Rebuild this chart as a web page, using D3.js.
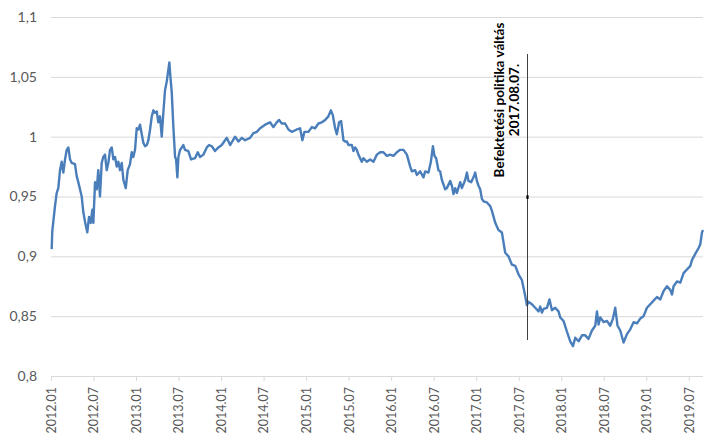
<!DOCTYPE html>
<html>
<head>
<meta charset="utf-8">
<script src="https://cdn.jsdelivr.net/npm/d3@7"></script>
<style>
    html, body { margin: 0; padding: 0; background: #fff; }
    svg { display: block; }
</style>
</head>
<body>
<svg id="chart" width="715" height="434"></svg>
<script>
// Series: decimal year and value
var dates = [
    2012.008, 2012.015, 2012.047, 2012.067, 2012.086, 2012.106, 2012.126, 2012.145, 2012.165, 2012.185,
    2012.204, 2012.224, 2012.244, 2012.282, 2012.302, 2012.321, 2012.341, 2012.361, 2012.380, 2012.400,
    2012.427, 2012.447, 2012.467, 2012.486, 2012.498, 2012.518, 2012.538, 2012.556, 2012.576, 2012.596,
    2012.615, 2012.635, 2012.655, 2012.674, 2012.694, 2012.714, 2012.733, 2012.753, 2012.773, 2012.792,
    2012.812, 2012.832, 2012.851, 2012.879, 2012.902, 2012.929, 2012.949, 2012.968, 2012.988, 2013.008,
    2013.027, 2013.047, 2013.067, 2013.086, 2013.106, 2013.126, 2013.145, 2013.165, 2013.185, 2013.204,
    2013.224, 2013.244, 2013.262, 2013.282, 2013.302, 2013.321, 2013.341, 2013.361, 2013.380, 2013.392,
    2013.404, 2013.420, 2013.439, 2013.459, 2013.471, 2013.486, 2013.498, 2013.518, 2013.538, 2013.556,
    2013.576, 2013.615, 2013.647, 2013.694, 2013.726, 2013.753, 2013.792, 2013.832, 2013.859, 2013.891,
    2013.929, 2013.968, 2014.008, 2014.047, 2014.067, 2014.106, 2014.165, 2014.204, 2014.244, 2014.282,
    2014.341, 2014.380, 2014.420, 2014.459, 2014.518, 2014.576, 2014.615, 2014.655, 2014.682, 2014.714,
    2014.753, 2014.792, 2014.832, 2014.891, 2014.929, 2014.956, 2014.980, 2015.027, 2015.067, 2015.106,
    2015.145, 2015.185, 2015.224, 2015.262, 2015.291, 2015.314, 2015.341, 2015.361, 2015.388, 2015.412,
    2015.439, 2015.459, 2015.479, 2015.498, 2015.538, 2015.556, 2015.576, 2015.596, 2015.615, 2015.655,
    2015.674, 2015.714, 2015.753, 2015.792, 2015.832, 2015.871, 2015.909, 2015.949, 2015.988, 2016.027,
    2016.067, 2016.106, 2016.145, 2016.185, 2016.224, 2016.244, 2016.282, 2016.302, 2016.341, 2016.380,
    2016.400, 2016.439, 2016.467, 2016.491, 2016.509, 2016.529, 2016.556, 2016.576, 2016.596, 2016.635,
    2016.655, 2016.694, 2016.714, 2016.733, 2016.753, 2016.773, 2016.812, 2016.832, 2016.871, 2016.891,
    2016.909, 2016.941, 2016.968, 2016.988, 2017.008, 2017.027, 2017.047, 2017.067, 2017.086, 2017.126,
    2017.165, 2017.185, 2017.224, 2017.262, 2017.302, 2017.341, 2017.380, 2017.420, 2017.459, 2017.498,
    2017.538, 2017.576, 2017.596, 2017.615, 2017.655, 2017.694, 2017.733, 2017.753, 2017.773, 2017.792,
    2017.832, 2017.862, 2017.891, 2017.929, 2017.968, 2017.988, 2018.027, 2018.067, 2018.106, 2018.138,
    2018.165, 2018.204, 2018.244, 2018.282, 2018.321, 2018.361, 2018.400, 2018.420, 2018.439, 2018.459,
    2018.498, 2018.538, 2018.576, 2018.608, 2018.635, 2018.662, 2018.694, 2018.733, 2018.773, 2018.812,
    2018.851, 2018.891, 2018.929, 2018.968, 2019.008, 2019.047, 2019.086, 2019.126, 2019.165, 2019.204,
    2019.244, 2019.282, 2019.302, 2019.321, 2019.361, 2019.400, 2019.439, 2019.478, 2019.518, 2019.538,
    2019.576, 2019.615, 2019.635, 2019.655, 2019.667
];

var values = [
    0.906, 0.921, 0.942, 0.953, 0.957, 0.972, 0.979, 0.970, 0.981, 0.989,
    0.991, 0.981, 0.978, 0.977, 0.967, 0.962, 0.956, 0.950, 0.937, 0.929,
    0.920, 0.933, 0.928, 0.939, 0.928, 0.962, 0.956, 0.972, 0.950, 0.978,
    0.983, 0.985, 0.972, 0.978, 0.989, 0.991, 0.981, 0.983, 0.975, 0.979,
    0.972, 0.978, 0.964, 0.957, 0.972, 0.977, 0.987, 0.983, 0.989, 1.007,
    1.006, 1.010, 1.002, 0.995, 0.992, 0.993, 0.997, 1.006, 1.017, 1.022,
    1.020, 1.021, 1.012, 1.017, 1.000, 1.020, 1.039, 1.046, 1.056, 1.062,
    1.050, 1.037, 1.008, 0.983, 0.981, 0.966, 0.983, 0.989, 0.991, 0.993,
    0.989, 0.988, 0.981, 0.982, 0.987, 0.983, 0.985, 0.991, 0.993, 0.992,
    0.988, 0.991, 0.993, 0.997, 0.999, 0.993, 1.000, 0.996, 0.999, 0.997,
    0.999, 1.003, 1.004, 1.007, 1.010, 1.012, 1.008, 1.012, 1.014, 1.011,
    1.011, 1.006, 1.004, 1.006, 1.007, 0.997, 1.004, 1.004, 1.008, 1.007,
    1.011, 1.012, 1.014, 1.017, 1.022, 1.018, 1.007, 1.002, 1.012, 1.013,
    0.997, 0.996, 0.996, 0.993, 0.993, 0.988, 0.991, 0.989, 0.985, 0.979,
    0.982, 0.979, 0.981, 0.979, 0.985, 0.987, 0.987, 0.984, 0.985, 0.984,
    0.987, 0.989, 0.989, 0.985, 0.975, 0.971, 0.972, 0.968, 0.971, 0.966,
    0.971, 0.970, 0.979, 0.992, 0.984, 0.982, 0.972, 0.971, 0.964, 0.956,
    0.957, 0.963, 0.959, 0.952, 0.957, 0.953, 0.962, 0.957, 0.964, 0.970,
    0.963, 0.962, 0.966, 0.970, 0.963, 0.959, 0.956, 0.948, 0.946, 0.945,
    0.942, 0.938, 0.928, 0.922, 0.920, 0.903, 0.900, 0.893, 0.892, 0.885,
    0.880, 0.867, 0.859, 0.862, 0.860, 0.857, 0.854, 0.858, 0.853, 0.856,
    0.857, 0.864, 0.855, 0.857, 0.854, 0.849, 0.846, 0.837, 0.829, 0.825,
    0.832, 0.829, 0.834, 0.834, 0.831, 0.838, 0.842, 0.854, 0.843, 0.849,
    0.845, 0.846, 0.842, 0.848, 0.857, 0.842, 0.838, 0.828, 0.835, 0.839,
    0.845, 0.844, 0.848, 0.850, 0.857, 0.860, 0.863, 0.866, 0.864, 0.871,
    0.875, 0.872, 0.868, 0.875, 0.879, 0.878, 0.886, 0.889, 0.892, 0.897,
    0.902, 0.907, 0.910, 0.920, 0.922
];

var xTickLabels = [
    "2012.01", "2012.07", "2013.01", "2013.07", "2014.01", "2014.07", "2015.01", "2015.07",
    "2016.01", "2016.07", "2017.01", "2017.07", "2018.01", "2018.07", "2019.01", "2019.07"
];

var yTicks = [0.8, 0.85, 0.9, 0.95, 1, 1.05, 1.1];

var markerDate = "2017.08.07.";
var markerLines = ["Befektetési politika váltás", "2017.08.07."];

(function () {

    var left = 51, right = 703, top = 17, bottom = 376;

    // "2012.07" -> 2012.5
    function labelToYear(s) {
        var p = s.split(".");
        var yr = +p[0] + (+p[1] - 1) / 12;
        if (p.length > 2 && p[2] !== "") yr += (+p[2] - 1) / 365;
        return yr;
    }

    var svg = d3.select("#chart");

    var x = d3.scaleLinear()
        .domain([2012, d3.max(dates)])
        .range([left, right]);

    var y = d3.scaleLinear()
        .domain([0.8, 1.1])
        .range([bottom, top]);

    // Gridlines + y labels
    var yAxis = d3.axisLeft(y)
        .tickValues(yTicks)
        .tickSize(-(right - left))
        .tickPadding(14)
        .tickFormat(function (d) { return String(+d.toFixed(2)).replace(".", ","); });

    var gy = svg.append("g")
        .attr("transform", "translate(" + left + ",0)")
        .call(yAxis);
    gy.select(".domain").remove();
    gy.selectAll(".tick line")
        .attr("stroke", "#d9d9d9")
        .attr("stroke-width", 1);
    gy.selectAll(".tick text")
        .attr("fill", "#595959")
        .style("font-family", "Lato, 'DejaVu Sans', sans-serif")
        .style("font-size", "14px");

    // X axis
    var xAxis = d3.axisBottom(x)
        .tickValues(xTickLabels.map(labelToYear))
        .tickSize(5)
        .tickFormat(function (d, i) { return xTickLabels[i]; });

    var gx = svg.append("g")
        .attr("transform", "translate(0," + bottom + ")")
        .call(xAxis);
    gx.select(".domain")
        .attr("stroke", "#d9d9d9")
        .attr("d", "M" + left + ",0.5H" + right);
    gx.selectAll(".tick line").attr("stroke", "#d9d9d9");
    gx.selectAll(".tick text")
        .attr("fill", "#595959")
        .style("font-family", "Lato, 'DejaVu Sans', sans-serif")
        .style("font-size", "12.5px")
        .attr("text-anchor", "end")
        .attr("transform", "rotate(-90)")
        .attr("x", -11)
        .attr("y", 0)
        .attr("dy", "0.35em");

    // Series line
    var line = d3.line()
        .x(function (d, i) { return x(dates[i]); })
        .y(function (d) { return y(d); });

    svg.append("path")
        .datum(values)
        .attr("fill", "none")
        .attr("stroke", "#4a7ebb")
        .attr("stroke-width", 2.4)
        .attr("stroke-linejoin", "round")
        .attr("d", line);

    // Policy change marker
    var mx = Math.round(x(labelToYear(markerDate))) + 0.5;
    svg.append("line")
        .attr("x1", mx).attr("x2", mx)
        .attr("y1", 54).attr("y2", 340)
        .attr("stroke", "#404040")
        .attr("stroke-width", 1);
    svg.append("line")
        .attr("x1", mx).attr("x2", mx)
        .attr("y1", y(0.951)).attr("y2", y(0.948))
        .attr("stroke", "#000")
        .attr("stroke-width", 2.2);

    var ann = svg.append("text")
        .attr("transform", "translate(" + (mx - 24) + ",100) rotate(-90)")
        .attr("text-anchor", "middle")
        .attr("fill", "#000")
        .style("font-family", "Lato, 'DejaVu Sans', sans-serif")
        .style("font-weight", "bold")
        .style("font-size", "13.5px");
    ann.selectAll("tspan")
        .data(markerLines)
        .enter().append("tspan")
        .attr("x", 0)
        .attr("dy", function (d, i) { return i === 0 ? 0 : "1.15em"; })
        .text(function (d) { return d; });

})();
</script>
</body>
</html>
